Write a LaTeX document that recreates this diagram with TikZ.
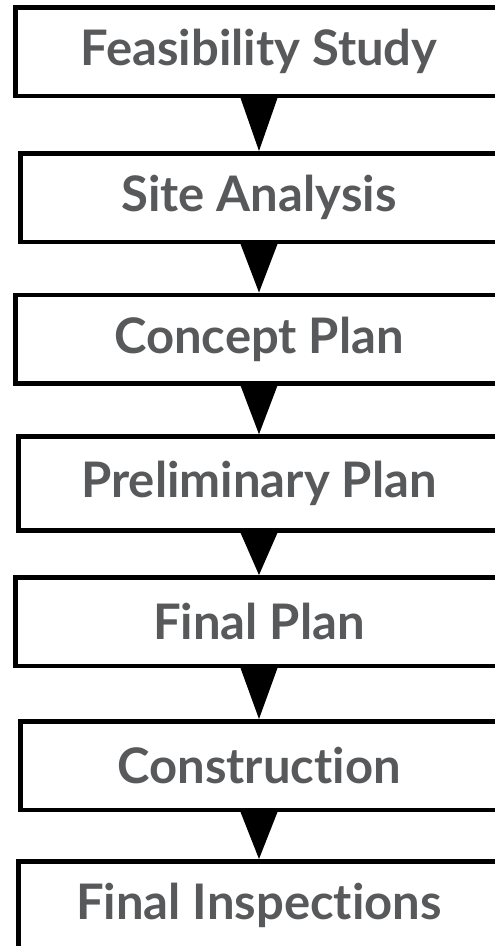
\documentclass[tikz,border=0pt]{standalone}
\usepackage{fontspec}
\setmainfont{Lato}[Ligatures={NoCommon}]
\definecolor{txtgray}{HTML}{58595B}
\begin{document}
\begin{tikzpicture}[x=1pt,y=-1pt,
  stage/.style={draw=black, fill=white, line width=4.5pt, rectangle,
    minimum height=88.5pt, inner sep=0pt, text=txtgray,
    font=\fontsize{49}{52}\selectfont\bfseries},
  pointer/.style={fill=black}]
\useasboundingbox (0,0) rectangle (495,946);
\clip (0,0) rectangle (495,946);
\node[stage, minimum width={2*(259-13)-4.5pt}] (b1) at (259,51.5) {Feasibility Study};
\node[stage, minimum width={2*(259-18)-4.5pt}] (b2) at (259,197.5) {Site Analysis};
\node[stage, minimum width={2*(259-13)-4.5pt}] (b3) at (259,339) {Concept Plan};
\node[stage, minimum width={2*(259-16)-4.5pt}, minimum height=94pt] (b4) at (259,483.5) {Preliminary Plan};
\node[stage, minimum width={2*(259-13)-4.5pt}] (b5) at (259,621.5) {Final Plan};
\node[stage, minimum width={2*(259-18)-4.5pt}] (b6) at (259,765.5) {Construction};
\node[stage, minimum width={2*(259-16)-4.5pt}] (b7) at (259,905.5) {Final Inspections};
\foreach \a/\b in {b1/b2,b2/b3,b3/b4,b4/b5,b5/b6,b6/b7}{
  \fill[pointer] ([xshift=-18.5pt]\a.south) -- ([xshift=18.5pt]\a.south) -- (\b.north) -- cycle;
}
\end{tikzpicture}
\end{document}
